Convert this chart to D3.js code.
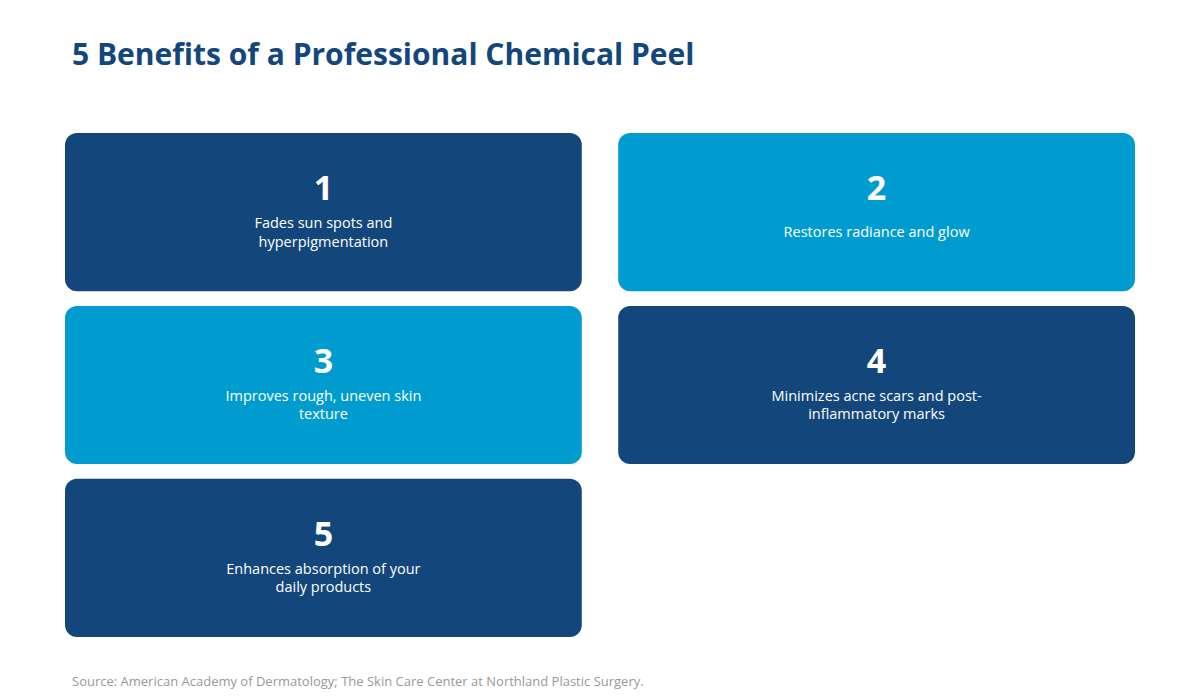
<!DOCTYPE html>
<html><head><meta charset="utf-8">
<script src="https://cdn.jsdelivr.net/npm/d3@7"></script>
<style>body{margin:0;background:#fff}</style></head>
<body><svg id="c" width="1200" height="700"></svg>
<script>
const numbers = ["1","2","3","4","5"];
const labels = [
  ["Fades sun spots and","hyperpigmentation"],
  ["Restores radiance and glow"],
  ["Improves rough, uneven skin","texture"],
  ["Minimizes acne scars and post-","inflammatory marks"],
  ["Enhances absorption of your","daily products"]
];
const tones = ["dark","light","light","dark","dark"];
const colors = {dark:"#13477b", light:"#009ccf"};
const svg = d3.select("#c");
const font = "'Open Sans','Noto Sans',sans-serif";
svg.append("text").attr("x",72).attr("y",65).attr("fill","#13477b")
  .attr("font-family",font).attr("font-weight",700).attr("font-size",30)
  .text("5 Benefits of a Professional Chemical Peel");
const x = d3.scaleBand().domain([0,1]).range([65,1135]).paddingInner(0.0658);
const y = d3.scaleBand().domain([0,1,2]).range([133,637]).paddingInner(0.085);
const g = svg.selectAll("g.card").data(numbers).enter().append("g")
  .attr("transform",(d,i)=>`translate(${x(i%2)},${y(Math.floor(i/2))})`);
g.append("rect").attr("width",x.bandwidth()).attr("height",y.bandwidth())
  .attr("rx",12).attr("fill",(d,i)=>colors[tones[i]]);
g.append("text").attr("x",x.bandwidth()/2).attr("y",67).attr("text-anchor","middle")
  .attr("fill","#fff").attr("font-family",font).attr("font-weight",700).attr("font-size",34).text(d=>d);
g.each(function(d,i){
  const L = labels[i], sel = d3.select(this);
  const start = L.length===1 ? 104 : 95;
  L.forEach((t,k)=>sel.append("text").attr("x",x.bandwidth()/2).attr("y",start+k*18.5)
    .attr("text-anchor","middle").attr("fill","#fff").attr("font-family",font)
    .attr("font-size",14.5).text(t));
});
svg.append("text").attr("x",72).attr("y",686).attr("fill","#999")
  .attr("font-family",font).attr("font-size",13)
  .text("Source: American Academy of Dermatology; The Skin Care Center at Northland Plastic Surgery.");
</script></body></html>
